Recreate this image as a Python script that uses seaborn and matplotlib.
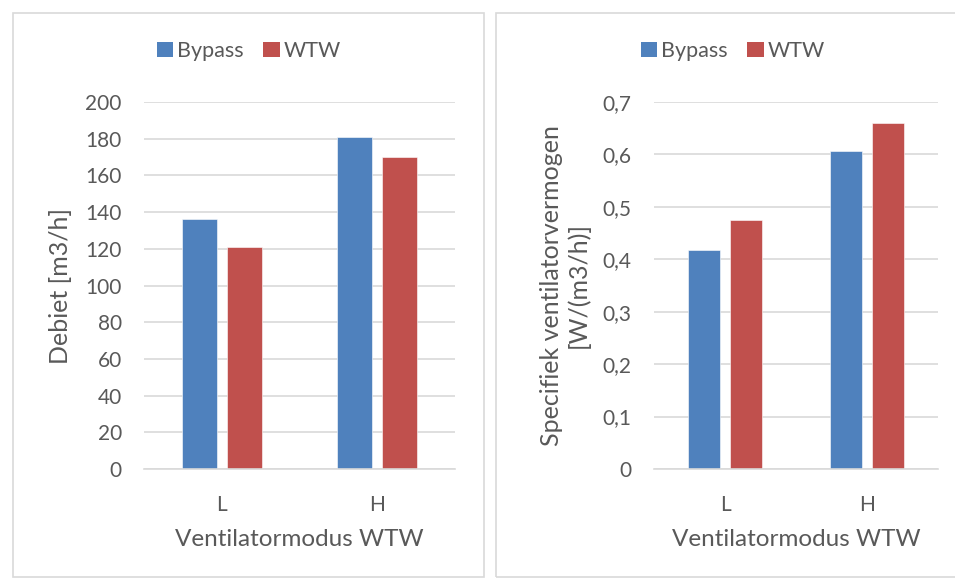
import matplotlib
matplotlib.use("Agg")
import matplotlib.pyplot as plt
import seaborn as sns
import pandas as pd
from matplotlib.patches import Rectangle, Patch
from matplotlib.ticker import FuncFormatter, MultipleLocator

categories = ["L", "H"]
series = ["Bypass", "WTW"]
debiet_bypass = [136, 181]
debiet_wtw = [121, 170]
svv_bypass = [0.417, 0.607]
svv_wtw = [0.474, 0.659]

colors = {"Bypass": "#4f81bd", "WTW": "#c0504d"}
txt = "#595959"
grid = "#d9d9d9"

def long_df(a, b):
    rows = []
    for c, v in zip(categories, a):
        rows.append({"mode": c, "serie": "Bypass", "val": v})
    for c, v in zip(categories, b):
        rows.append({"mode": c, "serie": "WTW", "val": v})
    return pd.DataFrame(rows)

sns.set_theme(style="white")
plt.rcParams["font.family"] = ["Lato", "DejaVu Sans"]

W, H = 955, 578
fig = plt.figure(figsize=(W / 100, H / 100), dpi=100)

def px_axes(x0, y0, x1, y1):
    return fig.add_axes([x0 / W, 1 - y1 / H, (x1 - x0) / W, (y1 - y0) / H])

# panel borders
fig.patches.append(Rectangle((12.5 / W, 1 - 577 / H), (484 - 12.5) / W, (577 - 12.5) / H,
                             transform=fig.transFigure, fill=False, ec=grid, lw=1.2))
fig.patches.append(Rectangle((495.5 / W, 1 - 577 / H), (990 - 495.5) / W, (577 - 12.5) / H,
                             transform=fig.transFigure, fill=False, ec=grid, lw=1.2))

ax1 = px_axes(144, 102, 455, 469)
ax2 = px_axes(654, 102, 938, 469)

def style(ax, df, ymax, step, ylabel, labx, fmt=None):
    sns.barplot(data=df, x="mode", y="val", hue="serie", order=categories, hue_order=series,
                palette=colors, width=0.579, gap=0.222, ax=ax, legend=False,
                edgecolor="white", linewidth=0.4, saturation=1)
    ax.set_ylim(0, ymax)
    ax.set_xlim(-0.5, 1.5)
    ax.yaxis.set_major_locator(MultipleLocator(step))
    if fmt:
        ax.yaxis.set_major_formatter(FuncFormatter(fmt))
    ax.grid(axis="y", color=grid, lw=1.2)
    ax.set_axisbelow(True)
    for s in ["top", "left", "right"]:
        ax.spines[s].set_visible(False)
    ax.spines["bottom"].set_color(grid)
    ax.spines["bottom"].set_linewidth(1.2)
    ax.tick_params(axis="both", length=0, labelsize=15, labelcolor=txt)
    ax.tick_params(axis="y", pad=16)
    ax.tick_params(axis="x", pad=19)
    ax.set_xlabel("Ventilatormodus WTW", fontsize=17.5, color=txt, labelpad=10)
    ax.set_ylabel(ylabel, fontsize=18, color=txt, linespacing=1.2)
    ax.yaxis.set_label_coords(labx, 0.5)

style(ax1, long_df(debiet_bypass, debiet_wtw), 200, 20, "Debiet [m3/h]", -0.231)
style(ax2, long_df(svv_bypass, svv_wtw), 0.7, 0.1,
      "Specifiek ventilatorvermogen\n[W/(m3/h)]", -0.225,
      fmt=lambda v, p: ("0" if abs(v) < 1e-9 else f"{v:.1f}".replace(".", ",")))

handles = [Patch(facecolor=colors[s], edgecolor="none", label=s) for s in series]
for cx in (249, 733):
    fig.legend(handles=handles, loc="center", bbox_to_anchor=(cx / W, 1 - 51 / H),
               ncol=2, frameon=False, fontsize=15.5, labelcolor=txt,
               handlelength=0.75, handleheight=0.75, handletextpad=0.2,
               columnspacing=0.9, borderpad=0)

fig.savefig("out.png", dpi=100, facecolor="white")
